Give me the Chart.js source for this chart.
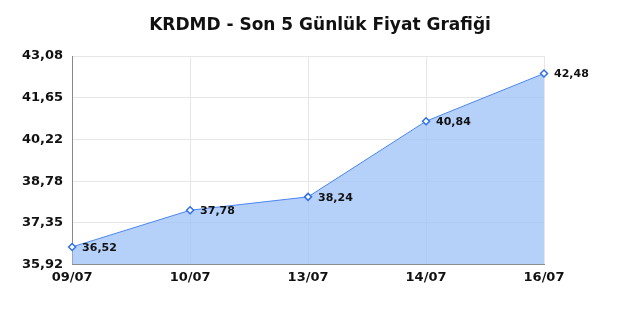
<!DOCTYPE html>
<html>
<head>
<meta charset="utf-8">
<script src="https://cdn.jsdelivr.net/npm/chart.js@4"></script>
<style>
  html, body { margin: 0; padding: 0; background: #fff; }
  #wrap { width: 640px; height: 320px; }
</style>
</head>
<body>
<div id="wrap"><canvas id="myChart" width="640" height="320"></canvas></div>
<script>
  const days = ['09/07', '10/07', '13/07', '14/07', '16/07'];
  const prices = [36.52, 37.78, 38.24, 40.84, 42.48];
  const yTicks = [35.92, 37.35, 38.78, 40.22, 41.65, 43.08];
  const title = 'KRDMD - Son 5 Günlük Fiyat Grafiği';

  const fmt = v => v.toFixed(2).replace('.', ',');

  // values next to each point + title centred on the whole canvas
  const extras = {
    id: 'extras',
    afterDatasetsDraw(chart) {
      const c = chart.ctx;
      const meta = chart.getDatasetMeta(0);
      c.save();
      c.font = 'bold 11px "DejaVu Sans"';
      c.fillStyle = '#111';
      c.textBaseline = 'middle';
      c.textAlign = 'left';
      meta.data.forEach((pt, i) => {
        c.fillText(fmt(prices[i]), pt.x + 10, pt.y + 1);
      });
      c.font = 'bold 17px "DejaVu Sans"';
      c.textAlign = 'center';
      c.fillText(title, chart.width / 2, 26);
      c.restore();
    }
  };

  const ctx = document.getElementById('myChart');

  new Chart(ctx, {
    type: 'line',
    data: {
      labels: days,
      datasets: [{
        data: prices,
        borderColor: '#4a86f0',
        borderWidth: 1,
        backgroundColor: 'rgba(160,195,247,0.78)',
        fill: 'start',
        tension: 0,
        pointStyle: 'rectRot',
        pointRadius: 3.5,
        pointBorderWidth: 1.5,
        pointBackgroundColor: '#fff',
        pointBorderColor: '#2f6fe8'
      }]
    },
    options: {
      responsive: false,
      animation: false,
      layout: { padding: { left: 13, right: 96, top: 56, bottom: 30 } },
      plugins: {
        legend: { display: false },
        tooltip: { enabled: false },
        title: { display: false }
      },
      scales: {
        y: {
          min: yTicks[0],
          max: yTicks[yTicks.length - 1],
          afterBuildTicks: axis => { axis.ticks = yTicks.map(v => ({ value: v })); },
          ticks: {
            color: '#111',
            font: { family: 'DejaVu Sans', size: 13, weight: 'bold' },
            padding: 9,
            callback: v => fmt(v)
          },
          grid: { color: '#e6e6e6', drawTicks: false },
          border: { color: '#888', width: 1 }
        },
        x: {
          offset: false,
          ticks: {
            color: '#111',
            font: { family: 'DejaVu Sans', size: 13, weight: 'bold' },
            padding: 5,
            maxRotation: 0
          },
          grid: { color: '#e6e6e6', drawTicks: false },
          border: { color: '#888', width: 1 }
        }
      }
    },
    plugins: [extras]
  });
</script>
</body>
</html>
